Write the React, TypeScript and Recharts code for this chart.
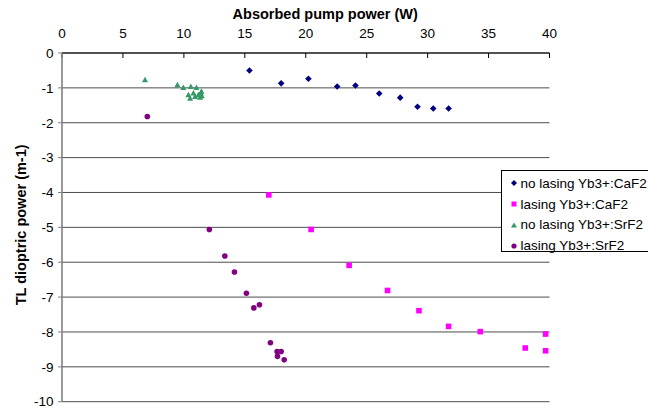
import { ScatterChart, Scatter, XAxis, YAxis, CartesianGrid } from 'recharts';

// no lasing Yb3+:CaF2
const caf2NoLasingX = [15.38, 17.98, 20.22, 22.58, 24.08, 26.03, 27.75, 29.17, 30.46, 31.72];
const caf2NoLasingY = [-0.5, -0.87, -0.74, -0.96, -0.93, -1.16, -1.28, -1.54, -1.59, -1.59];

// lasing Yb3+:CaF2
const caf2LasingX = [16.97, 20.44, 23.56, 26.71, 29.29, 31.72, 34.32, 38.01, 39.68, 39.68];
const caf2LasingY = [-4.07, -5.06, -6.09, -6.81, -7.39, -7.84, -7.99, -8.46, -8.06, -8.54];

// no lasing Yb3+:SrF2
const srf2NoLasingX = [6.81, 9.47, 9.96, 10.57, 11.03, 11.44, 10.37, 10.78, 10.51, 10.92, 11.33, 11.47, 11.19, 11.39];
const srf2NoLasingY = [-0.77, -0.91, -0.99, -0.96, -0.99, -1.1, -1.2, -1.15, -1.3, -1.25, -1.27, -1.23, -1.2, -1.15];

// lasing Yb3+:SrF2
const srf2LasingX = [7.0, 12.09, 13.36, 14.15, 15.13, 15.74, 16.2, 17.1, 17.65, 17.98, 17.68, 18.23];
const srf2LasingY = [-1.82, -5.06, -5.82, -6.28, -6.89, -7.31, -7.22, -8.31, -8.56, -8.56, -8.7, -8.8];

const seriesNames = ['no lasing Yb3+:CaF2', 'lasing Yb3+:CaF2', 'no lasing Yb3+:SrF2', 'lasing Yb3+:SrF2'];
const xTicks = [0, 5, 10, 15, 20, 25, 30, 35, 40];
const yTicks = [0, -1, -2, -3, -4, -5, -6, -7, -8, -9, -10];

const toPoints = (xs: number[], ys: number[]) => xs.map((x, i) => ({ x, y: ys[i] }));

const FONT = 'Arial, "Liberation Sans", sans-serif';
const COLORS = ['#000080', '#FF00FF', '#339966', '#800080'];

const Diamond = (p: any) => (
  <polygon
    points={`${p.cx},${p.cy - 3.3} ${p.cx + 3.3},${p.cy} ${p.cx},${p.cy + 3.3} ${p.cx - 3.3},${p.cy}`}
    fill={COLORS[0]}
  />
);
const Square = (p: any) => <rect x={p.cx - 2.8} y={p.cy - 2.8} width={5.6} height={5.6} fill={COLORS[1]} />;
const Triangle = (p: any) => (
  <polygon
    points={`${p.cx},${p.cy - 3} ${p.cx + 3},${p.cy + 2.4} ${p.cx - 3},${p.cy + 2.4}`}
    fill={COLORS[2]}
  />
);
const Dot = (p: any) => <circle cx={p.cx} cy={p.cy} r={2.8} fill={COLORS[3]} />;

const legendMarker = (i: number) => {
  if (i === 0) return <polygon points="4,1 7,4 4,7 1,4" fill={COLORS[0]} />;
  if (i === 1) return <rect x={1.5} y={1.5} width={5} height={5} fill={COLORS[1]} />;
  if (i === 2) return <polygon points="4,1.5 7,6.5 1,6.5" fill={COLORS[2]} />;
  return <circle cx={4} cy={4} r={2.6} fill={COLORS[3]} />;
};

const App = () => {
  return (
    <div
      style={{
        position: 'absolute',
        left: 0,
        top: 0,
        width: 648,
        height: 411,
        overflow: 'hidden',
        background: '#fff',
        fontFamily: FONT,
      }}
    >
      <ScatterChart width={648} height={411} margin={{ top: 5, right: 98.5, left: 0, bottom: 9.3 }}>
        <CartesianGrid vertical={false} stroke="#4d4d4d" />
        <XAxis
          type="number"
          dataKey="x"
          orientation="top"
          domain={[0, 40]}
          ticks={xTicks}
          height={48}
          axisLine={{ stroke: '#000' }}
          tickLine={{ stroke: '#000' }}
          tickSize={-5}
          tickMargin={20}
          tick={{ fill: '#000', fontSize: 13.5, fontFamily: FONT }}
          label={{
            content: (props: any) => {
              const vb = props.viewBox;
              return (
                <text
                  x={vb.x + vb.width / 2 + 19.5}
                  y={vb.y + 14}
                  textAnchor="middle"
                  fontSize={14.5}
                  fontWeight="bold"
                  fontFamily={FONT}
                  fill="#000"
                >
                  Absorbed pump power (W)
                </text>
              );
            },
          }}
        />
        <YAxis
          type="number"
          dataKey="y"
          domain={[-10, 0]}
          ticks={yTicks}
          width={62}
          axisLine={{ stroke: '#808080', strokeWidth: 1.6 }}
          tickLine={{ stroke: '#808080' }}
          tickSize={4}
          tickMargin={4.4}
          tick={{ fill: '#000', fontSize: 13.5, fontFamily: FONT }}
          label={{
            content: (props: any) => {
              const vb = props.viewBox;
              const cx = vb.x + 20.7;
              const cy = vb.y + vb.height / 2 - 2.5;
              return (
                <text
                  x={cx}
                  y={cy}
                  dy="0.35em"
                  transform={`rotate(-90, ${cx}, ${cy})`}
                  textAnchor="middle"
                  fontSize={14.5}
                  fontWeight="bold"
                  fontFamily={FONT}
                  fill="#000"
                >
                  TL dioptric power (m-1)
                </text>
              );
            },
          }}
        />
        <Scatter
          name={seriesNames[0]}
          data={toPoints(caf2NoLasingX, caf2NoLasingY)}
          shape={Diamond}
          isAnimationActive={false}
        />
        <Scatter
          name={seriesNames[1]}
          data={toPoints(caf2LasingX, caf2LasingY)}
          shape={Square}
          isAnimationActive={false}
        />
        <Scatter
          name={seriesNames[2]}
          data={toPoints(srf2NoLasingX, srf2NoLasingY)}
          shape={Triangle}
          isAnimationActive={false}
        />
        <Scatter
          name={seriesNames[3]}
          data={toPoints(srf2LasingX, srf2LasingY)}
          shape={Dot}
          isAnimationActive={false}
        />
      </ScatterChart>
      <div
        style={{
          position: 'absolute',
          left: 501,
          top: 170,
          width: 170,
          height: 82,
          border: '1px solid #000',
          background: '#fff',
          boxSizing: 'border-box',
          paddingTop: 2,
        }}
      >
        {seriesNames.map((name, i) => (
          <div
            key={name}
            style={{
              display: 'flex',
              alignItems: 'center',
              height: 20.8,
              fontSize: 13.5,
              color: '#000',
              whiteSpace: 'nowrap',
            }}
          >
            <svg width={8} height={8} style={{ marginLeft: 8, marginRight: 2.5 }}>
              {legendMarker(i)}
            </svg>
            {name}
          </div>
        ))}
      </div>
    </div>
  );
};

export default App;
